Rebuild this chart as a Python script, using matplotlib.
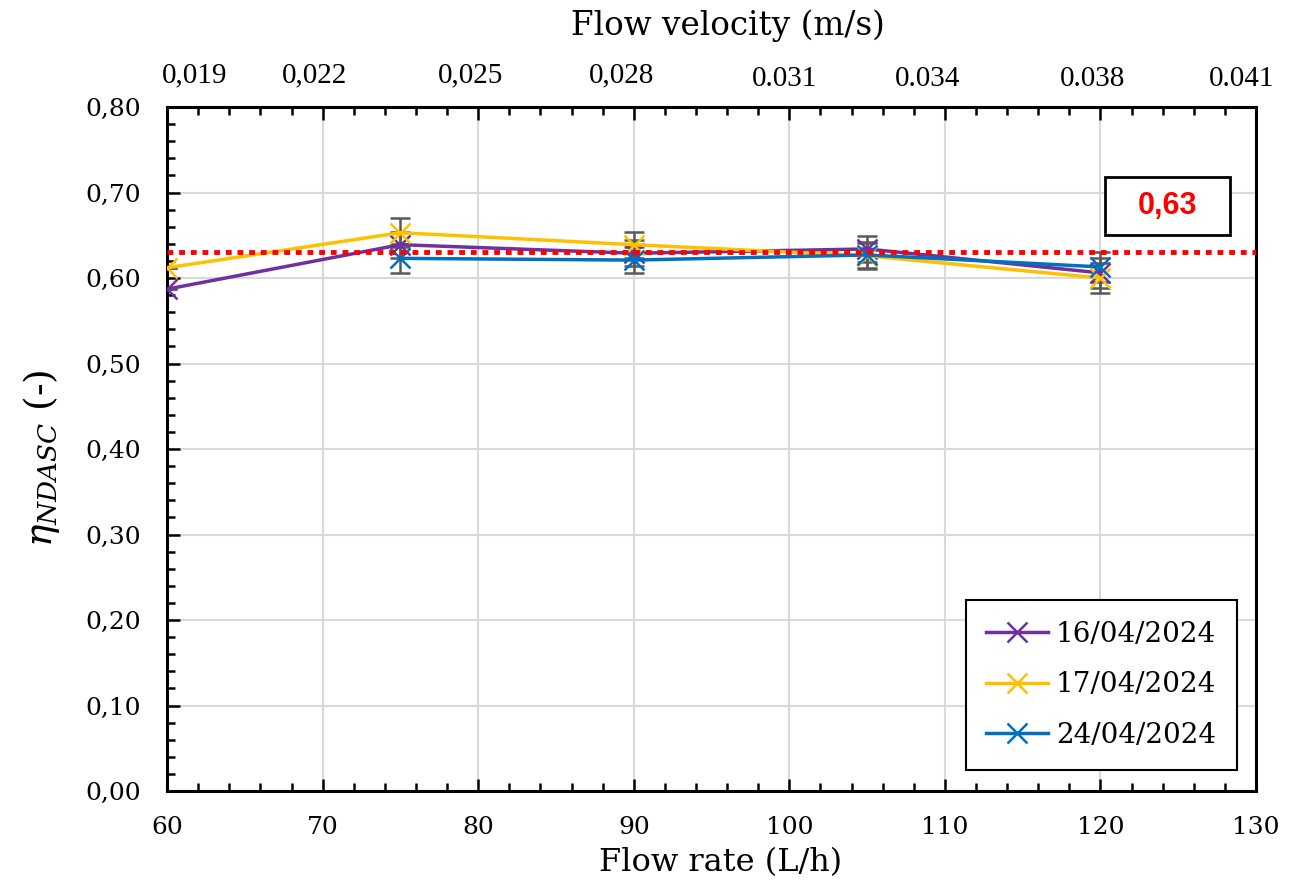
import matplotlib
matplotlib.use("Agg")
import matplotlib.pyplot as plt
from matplotlib.ticker import MultipleLocator, FuncFormatter
from matplotlib.patches import Rectangle

# ---- data ----
flow_rate = [60, 75, 90, 105, 120]
s16 = [0.587, 0.639, 0.629, 0.634, 0.606]
s17 = [0.612, 0.653, 0.639, 0.626, 0.600]
flow_rate_24 = [75, 90, 105, 120]
s24 = [0.623, 0.621, 0.627, 0.613]
err16 = [0.0, 0.015, 0.015, 0.015, 0.018]
err17 = [0.0, 0.017, 0.015, 0.015, 0.018]
err24 = [0.017, 0.015, 0.015, 0.018]
mean_value = 0.63
mean_label = "0,63"
labels = ["16/04/2024", "17/04/2024", "24/04/2024"]
colors = ["#7030A0", "#FFC000", "#0070C0"]

velocity_labels = ["0,019", "0,022", "0,025", "0,028", "0.031", "0.034", "0.038", "0.041"]
velocity_pos = [61.8, 69.5, 79.5, 89.2, 99.7, 108.9, 119.5, 129.1]
velocity_y = [1.047, 1.047, 1.047, 1.047, 1.041, 1.041, 1.041, 1.041]

serif = "DejaVu Serif"
plt.rcParams["font.family"] = serif
plt.rcParams["mathtext.fontset"] = "dejavuserif"

fig = plt.figure(figsize=(12.91, 8.89), dpi=100)
ax = fig.add_axes([0.1294, 0.1102, 0.8435, 0.7694])

ax.set_xlim(60, 130)
ax.set_ylim(0, 0.80)
ax.xaxis.set_major_locator(MultipleLocator(10))
ax.xaxis.set_minor_locator(MultipleLocator(2))
ax.yaxis.set_major_locator(MultipleLocator(0.1))
ax.yaxis.set_minor_locator(MultipleLocator(0.02))
ax.yaxis.set_major_formatter(FuncFormatter(lambda v, p: f"{v:.2f}".replace(".", ",")))
ax.grid(True, which="major", color="#d9d9d9", lw=1.5, zorder=0)
ax.tick_params(which="both", direction="in", top=True, bottom=True, left=True, right=False,
               labeltop=False, labelsize=18, width=1.8)
ax.tick_params(axis="y", which="major", pad=19)
ax.tick_params(axis="x", which="major", pad=18)
ax.tick_params(which="major", length=9)
ax.tick_params(which="minor", length=6)
for s in ax.spines.values():
    s.set_linewidth(2.2)

datasets = [(flow_rate, s16, err16), (flow_rate, s17, err17), (flow_rate_24, s24, err24)]
for (xs, ys, es), lab, c in zip(datasets, labels, colors):
    ax.errorbar(xs, ys, yerr=es, fmt="none", ecolor="#595959", elinewidth=1.8,
                capsize=7, capthick=1.8, zorder=3)
for (xs, ys, es), lab, c in zip(datasets, labels, colors):
    ax.plot(xs, ys, color=c, lw=2.5, marker="x", ms=14, mew=1.8, label=lab, zorder=4)

ax.axhline(mean_value, color="#FF0000", lw=3.5, linestyle=(0, (1.2, 1.2)), zorder=5)

ax.add_patch(Rectangle((0.861, 0.813), 0.115, 0.085, transform=ax.transAxes,
                       fc="white", ec="black", lw=2.0, zorder=6))
ax.text(0.9187, 0.855, mean_label, transform=ax.transAxes, color="#FF0000", fontsize=22,
        fontweight="bold", family="Liberation Sans", ha="center", va="center", zorder=7)

leg = ax.legend(loc="lower right", bbox_to_anchor=(0.9825, 0.031), fontsize=20,
                frameon=True, fancybox=False, edgecolor="black", framealpha=1,
                handlelength=2.2, labelspacing=0.85, borderpad=0.75, handletextpad=0.3,
                borderaxespad=0)
leg.get_frame().set_linewidth(1.5)

ax.set_xlabel("Flow rate (L/h)", fontsize=23)
ax.xaxis.set_label_coords(0.5087, -0.082)
ax.set_ylabel(r"$\eta_{NDASC}$ (-)", fontsize=27)
ax.yaxis.set_label_coords(-0.0965, 0.487)

for lab, xp, yp in zip(velocity_labels, velocity_pos, velocity_y):
    ax.text(xp, yp, lab, transform=ax.get_xaxis_transform(), ha="center", va="center",
            fontsize=21, family="Liberation Serif")
fig.text(0.564, 0.971, "Flow velocity (m/s)", ha="center", va="center", fontsize=23.5)

fig.savefig("out.png", dpi=100)
